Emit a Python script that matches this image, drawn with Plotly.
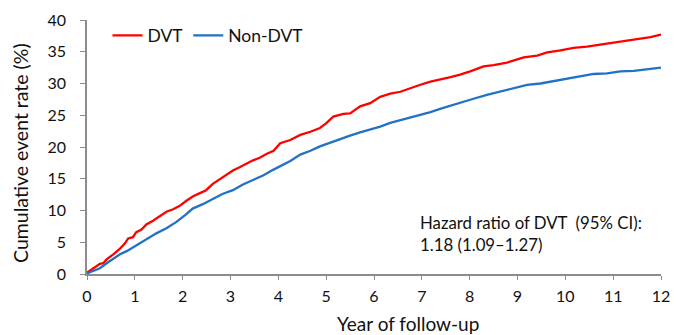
import plotly.graph_objects as go

dvt_years = [0, 0.13, 0.27, 0.34, 0.41, 0.55, 0.69, 0.79, 0.86, 0.96, 1.03, 1.14, 1.24, 1.38, 1.52, 1.66, 1.80, 1.93,
             2.07, 2.21, 2.35, 2.49, 2.63, 2.77, 2.91, 3.05, 3.19, 3.33, 3.47, 3.61, 3.75, 3.90, 4.04, 4.25, 4.46,
             4.67, 4.87, 5.01, 5.15, 5.36, 5.50, 5.71, 5.92, 6.13, 6.34, 6.55, 6.76, 6.97, 7.18, 7.38, 7.60, 7.80,
             8.01, 8.29, 8.50, 8.78, 9.13, 9.41, 9.62, 9.90, 10.17, 10.45, 10.73, 11.01, 11.29, 11.43, 11.57, 11.78, 12.0]
dvt_rate = [0.2, 0.9, 1.6, 1.7, 2.3, 3.1, 4.0, 4.8, 5.6, 5.8, 6.6, 7.0, 7.8, 8.4, 9.1, 9.8, 10.2, 10.7,
            11.5, 12.2, 12.7, 13.2, 14.2, 14.9, 15.5, 16.3, 16.8, 17.4, 17.9, 18.3, 18.9, 19.4, 20.6, 21.1, 21.9,
            22.4, 23.0, 23.8, 24.8, 25.2, 25.3, 26.4, 26.9, 27.9, 28.4, 28.7, 29.3, 29.8, 30.3, 30.6, 31.0, 31.4,
            31.9, 32.7, 32.9, 33.3, 34.1, 34.4, 34.9, 35.2, 35.6, 35.8, 36.1, 36.5, 36.7, 36.9, 37.1, 37.3, 37.7]

non_dvt_years = [0, 0.13, 0.27, 0.41, 0.55, 0.69, 0.83, 1.03, 1.24, 1.45, 1.66, 1.87, 2.07, 2.21, 2.42, 2.63, 2.83,
                 3.05, 3.26, 3.47, 3.68, 3.89, 4.04, 4.25, 4.46, 4.67, 4.87, 5.08, 5.29, 5.50, 5.71, 5.92, 6.13,
                 6.34, 6.55, 6.76, 6.97, 7.18, 7.38, 7.59, 7.80, 8.08, 8.36, 8.64, 8.92, 9.20, 9.48, 9.76, 10.04,
                 10.31, 10.59, 10.87, 11.15, 11.43, 11.71, 12.0]
non_dvt_rate = [0.1, 0.5, 0.9, 1.7, 2.4, 3.1, 3.6, 4.5, 5.4, 6.4, 7.2, 8.2, 9.4, 10.3, 11.0, 11.8, 12.6,
                13.2, 14.1, 14.8, 15.5, 16.4, 17.0, 17.8, 18.8, 19.4, 20.1, 20.7, 21.2, 21.8, 22.3, 22.7, 23.2,
                23.8, 24.2, 24.6, 25.1, 25.5, 26.0, 26.5, 26.9, 27.6, 28.2, 28.7, 29.3, 29.8, 30.0, 30.4, 30.8,
                31.1, 31.5, 31.6, 31.9, 32.0, 32.2, 32.5]

x_ticks = list(range(0, 13))
y_ticks = list(range(0, 41, 5))

fig = go.Figure()
fig.add_trace(go.Scatter(x=dvt_years, y=dvt_rate, mode="lines", name="DVT",
                         line=dict(color="#ff0000", width=2.3)))
fig.add_trace(go.Scatter(x=non_dvt_years, y=non_dvt_rate, mode="lines", name="Non-DVT",
                         line=dict(color="#1f72c4", width=2.3)))

font_family = "Lato, 'Open Sans', sans-serif"
txt = "#111111"
# the page body has an 8px default margin, so the figure is 8px smaller than the window
fig.update_layout(
    width=670, height=327,
    margin=dict(l=79, r=17, t=12, b=61, autoexpand=False),
    paper_bgcolor="white", plot_bgcolor="white",
    font=dict(family=font_family, size=16, color=txt),
    showlegend=True,
    legend=dict(orientation="h", x=0.0357, y=1.01, xanchor="left", yanchor="top",
                font=dict(size=17.5, color=txt), bgcolor="rgba(0,0,0,0)",
                itemwidth=30, tracegroupgap=0),
    xaxis=dict(range=[0, 12], tickvals=x_ticks, ticktext=[str(v) for v in x_ticks],
               showgrid=False, zeroline=False, showline=True, linecolor="#8c8c8c",
               linewidth=1.5, ticks="outside", ticklen=4, tickcolor="#8c8c8c",
               tickfont=dict(size=16, color=txt), ticklabelstandoff=3, automargin=False),
    yaxis=dict(range=[0, 40], tickvals=y_ticks, ticktext=[str(v) for v in y_ticks],
               showgrid=False, zeroline=False, showline=True, linecolor="#8c8c8c",
               linewidth=1.5, ticks="outside", ticklen=5, tickcolor="#8c8c8c",
               tickfont=dict(size=16, color=txt), ticklabelstandoff=11, automargin=False),
    annotations=[
        dict(x=6.93, y=10.1, xref="x", yref="y", xanchor="left", yanchor="top",
             align="left", showarrow=False,
             text="Hazard ratio of DVT  (95% CI):<br>1.18 (1.09–1.27)",
             font=dict(size=16.8, color=txt)),
        dict(x=0.559, y=-0.195, xref="paper", yref="paper", xanchor="center", yanchor="middle",
             showarrow=False, text="Year of follow-up", font=dict(size=19, color=txt)),
        dict(x=-0.117, y=0.476, xref="paper", yref="paper", xanchor="center", yanchor="middle",
             showarrow=False, textangle=-90, text="Cumulative event rate (%)",
             font=dict(size=19.5, color=txt)),
    ],
)

fig.write_html("out.html")
